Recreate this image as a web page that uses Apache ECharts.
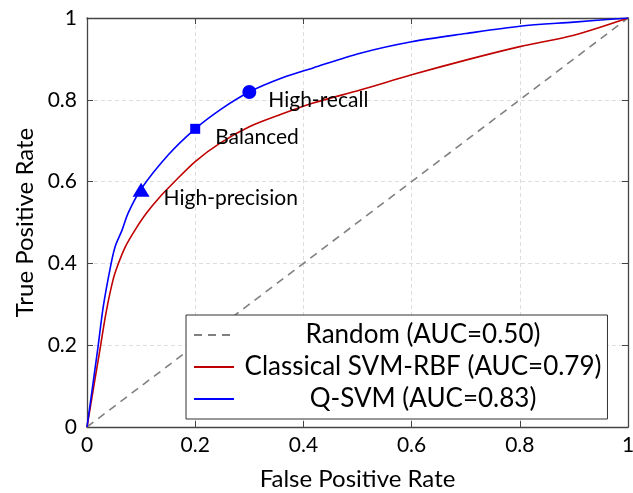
<html>
<head>
<meta charset="utf-8">
<title>ROC</title>
<script src="https://cdn.jsdelivr.net/npm/echarts@6/dist/echarts.min.js"></script>
<style>html,body{margin:0;padding:0;background:#fff}</style>
</head>
<body>
<div id="main" style="width:633px;height:493px;"></div>
<script type="text/javascript">
// ROC curve data
var randomPts = [[0, 0], [1, 1]];
var svmPts = [[0, 0], [0.024, 0.19], [0.035, 0.278], [0.048, 0.359], [0.057, 0.396], [0.071, 0.441],
    [0.089, 0.482], [0.11, 0.523], [0.135, 0.563], [0.159, 0.596], [0.2, 0.649], [0.246, 0.694],
    [0.3, 0.734], [0.36, 0.765], [0.418, 0.792], [0.505, 0.824], [0.6, 0.861], [0.7, 0.897],
    [0.8, 0.93], [0.9, 0.958], [1, 1]];
var qsvmPts = [[0, 0], [0.02, 0.192], [0.03, 0.294], [0.044, 0.396], [0.052, 0.441], [0.065, 0.482],
    [0.076, 0.523], [0.1, 0.582], [0.15, 0.665], [0.2, 0.729], [0.25, 0.779], [0.3, 0.819],
    [0.36, 0.853], [0.418, 0.878], [0.505, 0.914], [0.6, 0.942], [0.7, 0.962], [0.8, 0.98],
    [0.9, 0.99], [1, 1]];
var opPoints = [[0.1, 0.58], [0.2, 0.729], [0.3, 0.819]];
var opNames = ['High-precision', 'Balanced', 'High-recall'];
var opSymbols = ['triangle', 'rect', 'circle'];
var opSizes = [[17, 14], 10, 14];
var opGaps = [14, 15, 12];
var seriesNames = ['Random (AUC=0.50)', 'Classical SVM-RBF (AUC=0.79)', 'Q-SVM (AUC=0.83)'];

var font = 'Lato, "Open Sans", sans-serif';
var chart = echarts.init(document.getElementById('main'));

var axisBase = {
    type: 'value', min: 0, max: 1, interval: 0.2,
    axisLine: { show: true, onZero: false, lineStyle: { color: '#444', width: 1.3 } },
    axisTick: { show: true, inside: true, length: 6, lineStyle: { color: '#444' } }
};

var opSeries = opPoints.map(function (p, i) {
    return {
        type: 'scatter', name: opNames[i], symbol: opSymbols[i], symbolSize: opSizes[i],
        itemStyle: { color: '#0000ff', opacity: 1 }, z: 5,
        data: [p],
        label: {
            show: true, position: 'right', formatter: opNames[i], distance: opGaps[i],
            offset: [0, 8], color: '#000', fontSize: 21, fontFamily: font
        }
    };
});

chart.setOption({
    animation: false,
    grid: { left: 87, right: 5, top: 18, bottom: 66, outerBoundsMode: 'none', containLabel: false },
    xAxis: [
        Object.assign({}, axisBase, {
            position: 'bottom', name: 'False Positive Rate', nameLocation: 'middle', nameGap: 40,
            nameTextStyle: { fontSize: 24, color: '#000', fontFamily: font },
            axisLabel: { fontSize: 21, color: '#000', fontFamily: font, margin: 8 },
            splitLine: { show: true, lineStyle: { color: '#ddd', type: [4, 3] } }
        }),
        Object.assign({}, axisBase, { position: 'top', axisLabel: { show: false }, splitLine: { show: false } })
    ],
    yAxis: [
        Object.assign({}, axisBase, {
            position: 'left', name: 'True Positive Rate', nameLocation: 'middle', nameGap: 48,
            nameTextStyle: { fontSize: 24, color: '#000', fontFamily: font },
            axisLabel: { fontSize: 21, color: '#000', fontFamily: font, margin: 10 },
            splitLine: { show: true, lineStyle: { color: '#ddd', type: [4, 3] } }
        }),
        Object.assign({}, axisBase, { position: 'right', axisLabel: { show: false }, splitLine: { show: false } })
    ],
    legend: {
        data: seriesNames,
        orient: 'vertical', left: 186, top: 315,
        backgroundColor: '#fff', borderColor: '#333', borderWidth: 1,
        padding: [7, 6, 7, 7], itemGap: 6, itemWidth: 40, itemHeight: 14,
        itemStyle: { opacity: 0 },
        formatter: function (n) { return '{c|' + n + '}'; },
        textStyle: {
            fontSize: 26, color: '#000', fontFamily: font,
            rich: { c: { width: 368, height: 26, align: 'center', fontSize: 26, fontFamily: font, color: '#000' } }
        }
    },
    series: [
        {
            name: seriesNames[0], type: 'line', symbol: 'none', data: randomPts,
            lineStyle: { color: '#808080', width: 1.6, type: [8, 6] }, itemStyle: { color: '#808080' }
        },
        {
            name: seriesNames[1], type: 'line', symbol: 'none', smooth: 0.3, data: svmPts,
            lineStyle: { color: '#c00000', width: 1.6 }, itemStyle: { color: '#c00000' }
        },
        {
            name: seriesNames[2], type: 'line', symbol: 'none', smooth: 0.3, data: qsvmPts,
            lineStyle: { color: '#0000ff', width: 1.6 }, itemStyle: { color: '#0000ff' }
        }
    ].concat(opSeries)
});
</script>
</body>
</html>
